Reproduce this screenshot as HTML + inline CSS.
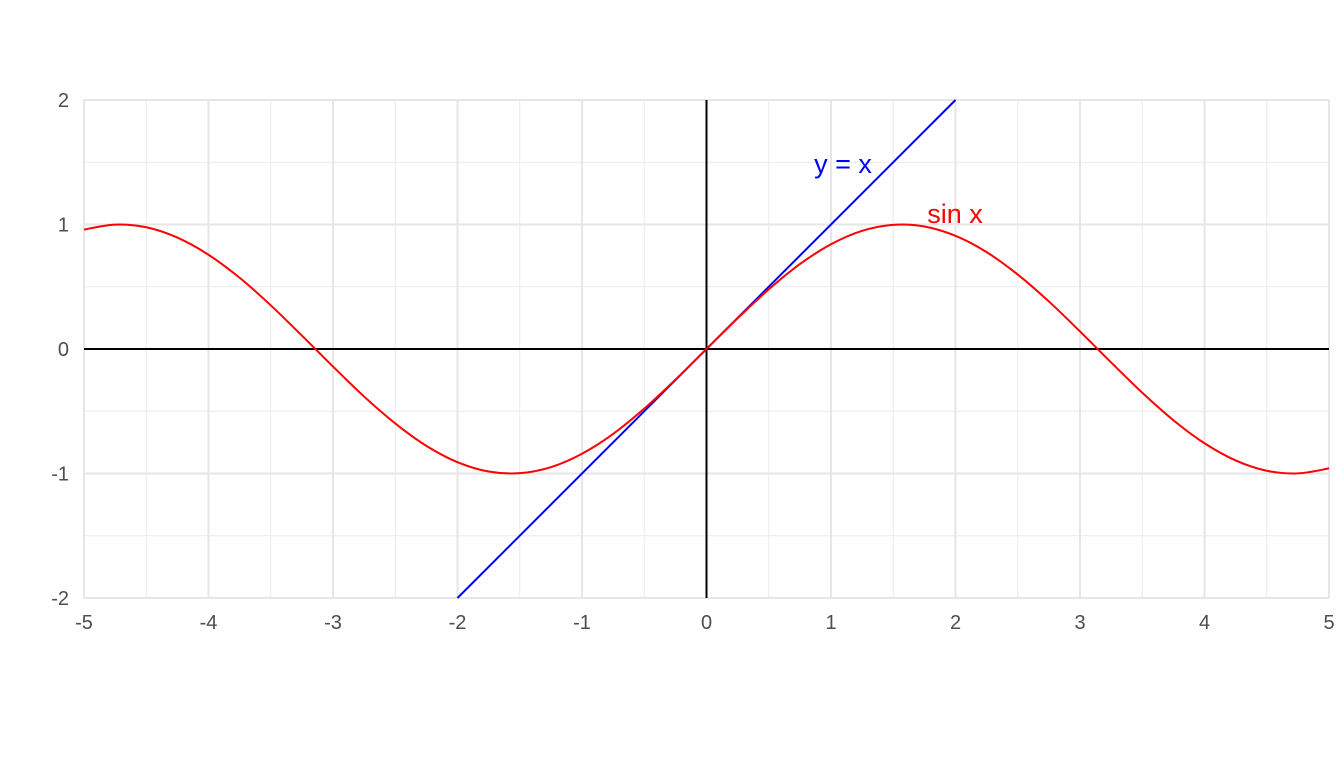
<!DOCTYPE html>
<html><head><meta charset="utf-8"><style>
html,body{margin:0;padding:0;background:#fff;}
svg{display:block;font-family:"Liberation Sans",Arial,sans-serif;}
</style></head><body>
<svg id="chart" width="1344" height="768" viewBox="0 0 1344 768">
<g id="grid"></g>
<g id="axes"></g>
<g id="series"></g>
<g id="labels"></g>
</svg>
<script>
const xTicks=[-5,-4,-3,-2,-1,0,1,2,3,4,5];
const yTicks=[-2,-1,0,1,2];
const xTickLabels=["-5","-4","-3","-2","-1","0","1","2","3","4","5"];
const yTickLabels=["-2","-1","0","1","2"];
const sinX=[-5,-4.75,-4.5,-4.25,-4,-3.75,-3.5,-3.25,-3,-2.75,-2.5,-2.25,-2,-1.75,-1.5,-1.25,-1,-0.75,-0.5,-0.25,0,0.25,0.5,0.75,1,1.25,1.5,1.75,2,2.25,2.5,2.75,3,3.25,3.5,3.75,4,4.25,4.5,4.75,5];
const sinY=[0.959,0.999,0.978,0.895,0.757,0.572,0.351,0.108,-0.141,-0.382,-0.598,-0.778,-0.909,-0.984,-0.997,-0.949,-0.841,-0.682,-0.479,-0.247,0,0.247,0.479,0.682,0.841,0.949,0.997,0.984,0.909,0.778,0.598,0.382,0.141,-0.108,-0.351,-0.572,-0.757,-0.895,-0.978,-0.999,-0.959];
const lineX=[-2,2];
const lineY=[-2,2];
const NS="http://www.w3.org/2000/svg";
const X0=84,X1=1329,Y0=598,Y1=100;
const sx=v=>X0+(v+5)/10*(X1-X0);
const sy=v=>Y0-(v+2)/4*(Y0-Y1);
function mk(tag,attrs,parent){const e=document.createElementNS(NS,tag);for(const k in attrs)e.setAttribute(k,attrs[k]);parent.appendChild(e);return e;}
const grid=document.getElementById('grid'),axes=document.getElementById('axes'),series=document.getElementById('series'),labels=document.getElementById('labels');
for(let v=-4.5;v<5;v+=1){const l=mk('line',{x1:sx(v),x2:sx(v),y1:Y1,y2:Y0,stroke:'#ebebeb','stroke-width':1},grid);

}
for(let v=-1.5;v<2;v+=1){const l=mk('line',{x1:X0,x2:X1,y1:sy(v),y2:sy(v),stroke:'#ebebeb','stroke-width':1},grid);

}
xTicks.forEach((v,i)=>{const l=mk('line',{x1:sx(v),x2:sx(v),y1:Y1,y2:Y0,stroke:'#e6e6e6','stroke-width':2},grid);


const t=mk('text',{x:sx(v),y:Y0+31,'text-anchor':'middle','font-size':20,fill:'#4d4d4d'},labels);t.textContent=xTickLabels[i];

});
yTicks.forEach((v,i)=>{const l=mk('line',{x1:X0,x2:X1,y1:sy(v),y2:sy(v),stroke:'#e6e6e6','stroke-width':2},grid);


const t=mk('text',{x:X0-15,y:sy(v)+7,'text-anchor':'end','font-size':20,fill:'#4d4d4d'},labels);t.textContent=yTickLabels[i];

});
const ax=mk('line',{x1:X0,x2:X1,y1:sy(0),y2:sy(0),stroke:'#000','stroke-width':2},axes);


const ay=mk('line',{x1:sx(0),x2:sx(0),y1:Y1,y2:Y0,stroke:'#000','stroke-width':2},axes);


const ln=mk('line',{x1:sx(lineX[0]),y1:sy(lineY[0]),x2:sx(lineX[1]),y2:sy(lineY[1]),stroke:'#0000ff','stroke-width':2},series);


const P=sinX.map((x,i)=>[sx(x),sy(sinY[i])]);
let d='M'+P[0][0]+','+P[0][1];
for(let i=0;i<P.length-1;i++){const p0=P[Math.max(i-1,0)],p1=P[i],p2=P[i+1],p3=P[Math.min(i+2,P.length-1)];
d+=` C${p1[0]+(p2[0]-p0[0])/6},${p1[1]+(p2[1]-p0[1])/6} ${p2[0]-(p3[0]-p1[0])/6},${p2[1]-(p3[1]-p1[1])/6} ${p2[0]},${p2[1]}`;}
const sp=mk('path',{d:d,fill:'none',stroke:'#ff0000','stroke-width':2},series);


const l1=mk('text',{x:843,y:173,'text-anchor':'middle','font-size':27,fill:'#0000ff'},labels);l1.textContent='y = x';


const l2=mk('text',{x:955,y:223,'text-anchor':'middle','font-size':27,fill:'#ff0000'},labels);l2.textContent='sin x';


</script>
</body></html>
